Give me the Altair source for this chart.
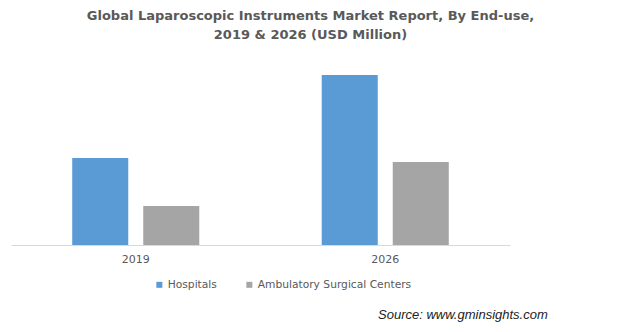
import altair as alt
import pandas as pd

years = ["2019", "2026"]
segments = ["Hospitals", "Ambulatory Surgical Centers"]
hospitals = [4350, 8500]
ambulatory = [1950, 4150]
colors = ["#5B9BD5", "#A5A5A5"]

rows = []
for i, y in enumerate(years):
    rows.append({"year": y, "segment": segments[0], "value": hospitals[i]})
    rows.append({"year": y, "segment": segments[1], "value": ambulatory[i]})
df = pd.DataFrame(rows)

bars = alt.Chart(df).mark_bar().encode(
    x=alt.X("year:N", sort=years,
            scale=alt.Scale(paddingInner=0, paddingOuter=0),
            axis=alt.Axis(title=None, labelAngle=0, ticks=False, grid=False,
                          domainColor="#d9d9d9", labelColor="#595959",
                          labelFont="DejaVu Sans", labelFontSize=11, labelPadding=8)),
    xOffset=alt.XOffset("segment:N", sort=segments,
                        scale=alt.Scale(paddingInner=0.211, paddingOuter=0.862)),
    y=alt.Y("value:Q", scale=alt.Scale(domain=[0, 10000]),
            axis=None),
    color=alt.Color("segment:N", sort=segments,
                    scale=alt.Scale(domain=segments, range=colors),
                    legend=alt.Legend(title=None, orient="none", direction="horizontal",
                                      legendX=143, legendY=234,
                                      symbolType="square", symbolSize=36,
                                      symbolStrokeWidth=0,
                                      labelFont="DejaVu Sans", labelFontSize=10.7,
                                      labelColor="#595959", labelOffset=3,
                                      columnPadding=27)),
)

source = alt.Chart(pd.DataFrame({"t": ["Source: www.gminsights.com"]})).mark_text(
    align="left", baseline="middle", font="Liberation Sans", fontStyle="italic",
    fontSize=13, color="#222222"
).encode(x=alt.value(367), y=alt.value(270), text="t:N")

chart = alt.layer(bars, source).properties(
    width=499, height=200,
    autosize=alt.AutoSizeParams(type="none"),
    padding={"left": 11, "top": 45, "right": 121, "bottom": 87},
    title=alt.TitleParams(
        text=["Global Laparoscopic Instruments Market Report, By End-use,",
              "2019 & 2026 (USD Million)"],
        font="DejaVu Sans", fontSize=13, fontWeight="bold", color="#595959",
        anchor="middle", dx=50, offset=3, lineHeight=19),
).configure_view(stroke=None)

chart.save("out.html", embed_options={"renderer": "svg", "actions": False})
